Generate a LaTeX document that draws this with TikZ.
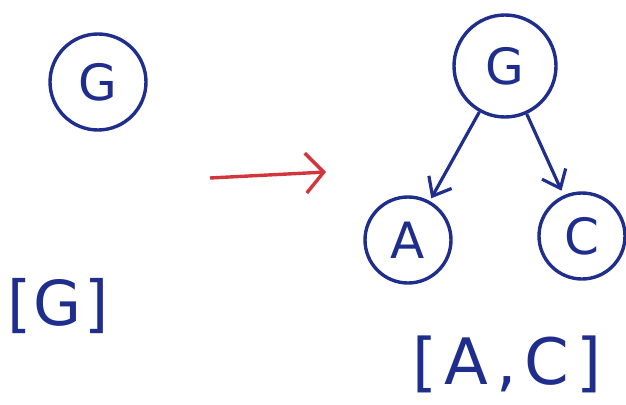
\documentclass[tikz,border=0pt]{standalone}
\usepackage{fontspec}
\setmainfont{DejaVu Sans}
\usetikzlibrary{arrows.meta}
\definecolor{ink}{HTML}{1F2E8C}
\definecolor{redink}{HTML}{D2363C}
\begin{document}
\begin{tikzpicture}[x=1pt,y=-1pt,
  vertex/.style={draw=ink, line width=3.4pt, circle, text=ink, inner sep=0pt,
    font=\fontsize{50}{54}\selectfont},
  edge/.style={draw=ink, line width=3.2pt, -{Straight Barb[length=16pt,width=26pt]}},
  listlabel/.style={text=ink, inner sep=0pt,
    font=\fontsize{64}{68}\selectfont\addfontfeature{LetterSpace=12}}]
\useasboundingbox (0,0) rectangle (626,404);
% single node before
\node[vertex, minimum size=96pt] (g1) at (98,82) {G};
\node[listlabel, font=\fontsize{62}{66}\selectfont\addfontfeature{LetterSpace=4}] (l1) at (58,306) {[G]};
% transformation arrow
\coordinate (t0) at (210,178);
\coordinate (t1) at (326,172);
\draw[redink, line width=3.4pt, -{Straight Barb[length=18pt,width=40pt]}] (t0) -- (t1);
% tree after
\node[vertex, minimum size=102pt] (g2) at (505,66) {G};
\node[vertex, minimum size=86pt] (a) at (408,240) {A};
\node[vertex, minimum size=86pt] (c) at (582,236) {C};
\draw[edge, shorten >=3pt] (g2) -- (a);
\draw[edge, shorten >=5pt] (g2) -- (c);
\node[listlabel] (l2) at (507,364) {[A,C]};
\end{tikzpicture}
\end{document}
